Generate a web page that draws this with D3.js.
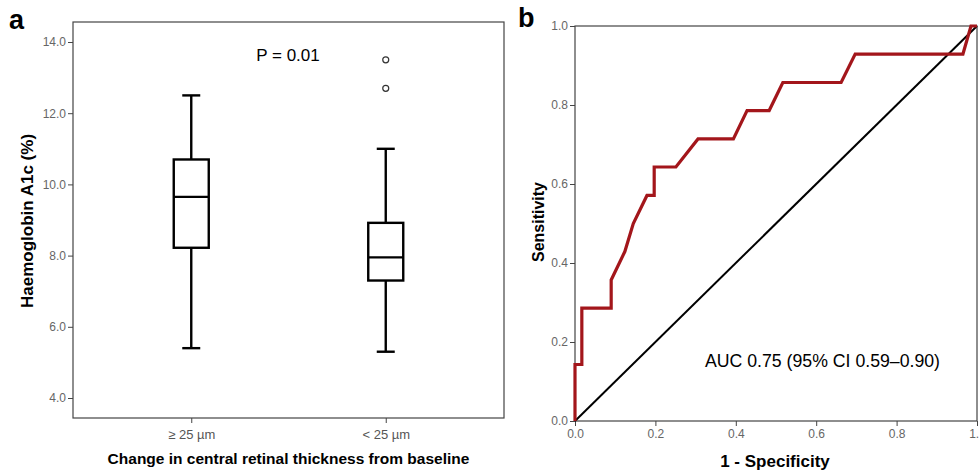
<!DOCTYPE html>
<html><head><meta charset="utf-8">
<script src="https://cdn.jsdelivr.net/npm/d3@7"></script>
<style>body{margin:0;background:#fff}svg{display:block;font-family:"Liberation Sans",Arial,sans-serif}</style>
</head><body><svg id="c" width="979" height="472"></svg>
<script>
// Panel a data
const groups = ["≥ 25 µm", "< 25 µm"];
const whiskerLow = [5.4, 5.3];
const q1 = [8.22, 7.3];
const medians = [9.65, 7.95];
const q3 = [10.7, 8.92];
const whiskerHigh = [12.5, 11.0];
const outliers = [[], [12.7, 13.5]];
const yTicksA = [4, 6, 8, 10, 12, 14];
// Panel b data
const fpr = [0, 0, 0.017, 0.017, 0.09, 0.09, 0.124, 0.145, 0.179, 0.197, 0.197, 0.251, 0.306, 0.394, 0.428, 0.483, 0.517, 0.662, 0.697, 0.965, 0.985, 1.0];
const tpr = [0, 0.143, 0.143, 0.286, 0.286, 0.357, 0.429, 0.5, 0.571, 0.571, 0.643, 0.643, 0.714, 0.714, 0.786, 0.786, 0.857, 0.857, 0.929, 0.929, 1.0, 1.0];
const ticksB = [0, 0.2, 0.4, 0.6, 0.8, 1.0];

const svg = d3.select("#c");
const frameCol = "#444", tickCol = "#666";

// ---------- Panel a ----------
const ax = {l: 73, r: 504, t: 22, b: 418};
const ya = d3.scaleLinear().domain([4, 14]).range([398, 42]);
const xa = d3.scalePoint().domain(groups).range([ax.l, ax.r]).padding(0.608);
const ga = svg.append("g");
ga.append("rect").attr("x", ax.l).attr("y", ax.t).attr("width", ax.r - ax.l).attr("height", ax.b - ax.t)
  .attr("fill", "none").attr("stroke", frameCol).attr("stroke-width", 1.2);
const yAxA = ga.append("g").attr("transform", `translate(${ax.l},0)`)
  .call(d3.axisLeft(ya).tickValues(yTicksA).tickFormat(d3.format(".1f")).tickSize(5).tickPadding(2));
yAxA.select(".domain").remove();
yAxA.selectAll("line").attr("stroke", frameCol);
yAxA.selectAll("text").attr("fill", tickCol).attr("font-size", 12).attr("font-family", "Liberation Sans, Arial, sans-serif");
const xAxA = ga.append("g").attr("transform", `translate(0,${ax.b})`)
  .call(d3.axisBottom(xa).tickSize(5).tickPadding(7));
xAxA.select(".domain").remove();
xAxA.selectAll("line").attr("stroke", frameCol);
xAxA.selectAll("text").attr("fill", "#555").attr("font-size", 13).attr("font-family", "Liberation Sans, Arial, sans-serif");

const boxW = 35, capW = 18;
groups.forEach((g, i) => {
  const cx = xa(g);
  const bg = ga.append("g").attr("stroke", "#000").attr("stroke-width", 2.4).attr("fill", "none");
  bg.append("line").attr("x1", cx).attr("x2", cx).attr("y1", ya(whiskerHigh[i])).attr("y2", ya(q3[i]));
  bg.append("line").attr("x1", cx).attr("x2", cx).attr("y1", ya(q1[i])).attr("y2", ya(whiskerLow[i]));
  bg.append("line").attr("x1", cx - capW/2).attr("x2", cx + capW/2).attr("y1", ya(whiskerHigh[i])).attr("y2", ya(whiskerHigh[i]));
  bg.append("line").attr("x1", cx - capW/2).attr("x2", cx + capW/2).attr("y1", ya(whiskerLow[i])).attr("y2", ya(whiskerLow[i]));
  bg.append("rect").attr("x", cx - boxW/2).attr("width", boxW).attr("y", ya(q3[i])).attr("height", ya(q1[i]) - ya(q3[i])).attr("fill", "#fff");
  bg.append("line").attr("x1", cx - boxW/2).attr("x2", cx + boxW/2).attr("y1", ya(medians[i])).attr("y2", ya(medians[i]));
  outliers[i].forEach(v => {
    ga.append("circle").attr("cx", cx).attr("cy", ya(v)).attr("r", 3).attr("fill", "none").attr("stroke", "#333").attr("stroke-width", 1.2);
  });
});
ga.append("text").attr("x", 288).attr("y", 61).attr("text-anchor", "middle").attr("font-size", 17).text("P = 0.01");
ga.append("text").attr("transform", `translate(33,221) rotate(-90)`).attr("text-anchor", "middle")
  .attr("font-size", 17).attr("font-weight", "bold").text("Haemoglobin A1c (%)");
ga.append("text").attr("x", (ax.l + ax.r)/2).attr("y", 464).attr("text-anchor", "middle")
  .attr("font-size", 15.5).attr("font-weight", "bold").text("Change in central retinal thickness from baseline");
ga.append("text").attr("x", 9).attr("y", 29).attr("font-size", 27).attr("font-weight", "bold").text("a");

// ---------- Panel b ----------
const bx = {l: 575, r: 977, t: 26, b: 421};
const xb = d3.scaleLinear().domain([0, 1]).range([bx.l, bx.r]);
const yb = d3.scaleLinear().domain([0, 1]).range([bx.b, bx.t]);
const gb = svg.append("g");
gb.append("rect").attr("x", bx.l).attr("y", bx.t).attr("width", bx.r - bx.l).attr("height", bx.b - bx.t)
  .attr("fill", "none").attr("stroke", frameCol).attr("stroke-width", 1.2);
const yAxB = gb.append("g").attr("transform", `translate(${bx.l},0)`)
  .call(d3.axisLeft(yb).tickValues(ticksB).tickFormat(d3.format(".1f")).tickSize(5).tickPadding(2));
yAxB.select(".domain").remove();
yAxB.selectAll("line").attr("stroke", frameCol);
yAxB.selectAll("text").attr("fill", tickCol).attr("font-size", 12).attr("font-family", "Liberation Sans, Arial, sans-serif");
const xAxB = gb.append("g").attr("transform", `translate(0,${bx.b})`)
  .call(d3.axisBottom(xb).tickValues(ticksB).tickFormat(d3.format(".1f")).tickSize(5).tickPadding(3));
xAxB.select(".domain").remove();
xAxB.selectAll("line").attr("stroke", frameCol);
xAxB.selectAll("text").attr("fill", tickCol).attr("font-size", 12).attr("font-family", "Liberation Sans, Arial, sans-serif");

gb.append("line").attr("x1", xb(0)).attr("y1", yb(0)).attr("x2", xb(1)).attr("y2", yb(1))
  .attr("stroke", "#000").attr("stroke-width", 2);
const pts = fpr.map((f, i) => [f, tpr[i]]);
gb.append("path").datum(pts)
  .attr("d", d3.line().x(d => xb(d[0])).y(d => yb(d[1])))
  .attr("fill", "none").attr("stroke", "#a3161b").attr("stroke-width", 3.2).attr("stroke-linejoin", "miter");
gb.append("text").attr("x", 705).attr("y", 367).attr("font-size", 17.7).text("AUC 0.75 (95% CI 0.59–0.90)");
gb.append("text").attr("transform", `translate(544,222) rotate(-90)`).attr("text-anchor", "middle")
  .attr("font-size", 16).attr("font-weight", "bold").text("Sensitivity");
gb.append("text").attr("x", 775).attr("y", 467).attr("text-anchor", "middle")
  .attr("font-size", 17).attr("font-weight", "bold").text("1 - Specificity");
gb.append("text").attr("x", 518).attr("y", 27).attr("font-size", 27).attr("font-weight", "bold").text("b");
</script></body></html>
